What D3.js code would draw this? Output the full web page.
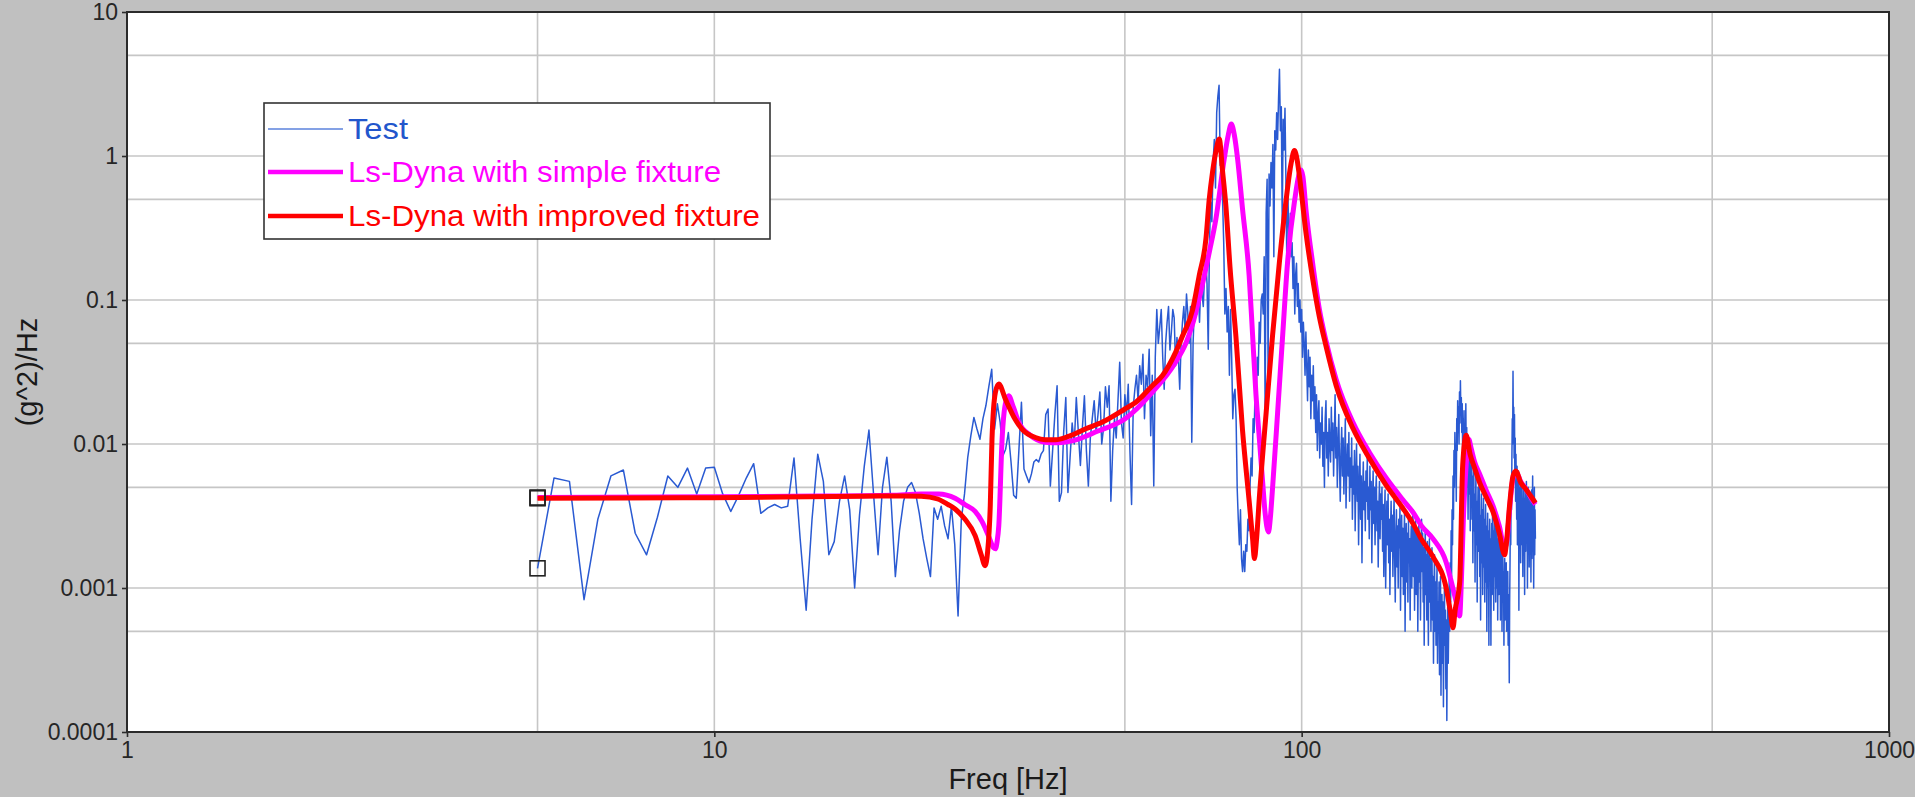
<!DOCTYPE html>
<html>
<head>
<meta charset="utf-8">
<script src="https://cdn.jsdelivr.net/npm/d3@7"></script>
<style>
  html, body { margin: 0; padding: 0; background: #c0c0c0; overflow: hidden; }
  svg { display: block; }
  text { font-family: "Liberation Sans", Arial, sans-serif; }
</style>
</head>
<body>
<svg id="chart" width="1915" height="797"></svg>
<script>
// ---- axis ticks and grid ----
const xTicks = [1, 10, 100, 1000];
const xTickLabels = ["1", "10", "100", "1000"];
const yTicks = [0.0001, 0.001, 0.01, 0.1, 1, 10];
const yTickLabels = ["0.0001", "0.001", "0.01", "0.1", "1", "10"];
const xGrid = [5, 10, 50, 100, 500];
const yGrid = [0.0005, 0.001, 0.005, 0.01, 0.05, 0.1, 0.5, 1, 5];

const seriesNames = ["Test", "Ls-Dyna with simple fixture", "Ls-Dyna with improved fixture"];
const seriesColors = ["#2a5ad2", "#ff00ff", "#ff0000"];

// ---- measured PSD, 1/3 Hz bins from 5 Hz to 250 Hz, (g^2)/Hz ----
const testStartHz = 5;
const testStepHz = 1 / 3;
const testPsd = [
  .00137,.0058,.0055,.00083,.0030,.0060,.0066,.0024,.0017,.0031,.0060,.0050,.0068,.0045,.0068,
  .0069,.0045,.0034,.0044,.0058,.0073,.0033,.0036,.0038,.0036,.0037,.0080,.0022,.0007,.0030,
  .0085,.0055,.0017,.0021,.0040,.0060,.0035,.0010,.0032,.0070,.0125,.0045,.0017,.0050,.0081,
  .0040,.0012,.0025,.0040,.0050,.0054,.0046,.0033,.0022,.0016,.0012,.0036,.0030,.0037,.0027,
  .0022,.0037,.0020,.00064,.0030,.0045,.0080,.0114,.0153,.0127,.0108,.0150,.0185,.0250,.0330,
  .0127,.0190,.0141,.0083,.0092,.0120,.0075,.0044,.0042,.0090,.0195,.0067,.0060,.0054,.0062,
  .0075,.0078,.0075,.0085,.0090,.0160,.0175,.0051,.0090,.0160,.0254,.0040,.0046,.0120,.0210,
  .0046,.0080,.0140,.0100,.0210,.0120,.0071,.0130,.0216,.0090,.0051,.0110,.0150,.0200,.0120,
  .0160,.0230,.0100,.0130,.0250,.0180,.0254,.0040,.0090,.0150,.0110,.0200,.0369,.0140,.0110,
  .0220,.0160,.0260,.0090,.0038,.0180,.0240,.0300,.0200,.0350,.0260,.0420,.0150,.0300,.0250,
  .0455,.0114,.0300,.0051,.0400,.0860,.0500,.0650,.0860,.0400,.0240,.0500,.0700,.0900,.0450,
  .0600,.0860,.0750,.0350,.0550,.0400,.0240,.0500,.0700,.0900,.0600,.1100,.0800,.0500,.0900,
  .0103,.0500,.0900,.1100,.0800,.1200,.0700,.1300,.1100,.0900,.1500,.2000,.1300,.0455,.2500,
  .48,.35,.90,1.3,.60,2.0,2.6,3.1,.86,1.1,.50,.25,.080,.12,.060,
  .090,.030,.086,.040,.015,.022,.024,.015,.0049,.0030,.0020,.0035,.0016,.0013,.0018,
  .0013,.0020,.0018,.0030,.0025,.0050,.0080,.0060,.0150,.0120,.0250,.0200,.0400,.0300,.0700,
  .050,.100,.110,.080,.200,.015,.400,.690,.030,.750,.450,.900,.600,1.20,.200,
  1.5,1.1,2.0,1.3,2.5,4.0,1.5,2.2,.33,1.8,1.1,2.15,.70,.19,.60,
  .35,.193,.40,.20,.25,.12,.20,.08,.15,.18,.09,.13,.07,.10,.06,
  .086,.040,.070,.050,.030,.060,.035,.020,.045,.025,.040,.015,.030,.020,.035,
  .015,.025,.012,.022,.009,.016,.020,.008,.014,.010,.018,.007,.012,.005,.015,
  .020,.008,.012,.006,.015,.010,.0075,.018,.009,.014,.006,.011,.022,.008,.013,
  .005,.010,.016,.007,.004,.009,.013,.006,.011,.0045,.008,.015,.0036,.007,.010,
  .006,.012,.004,.008,.005,.011,.003,.007,.0045,.009,.0025,.006,.010,.004,.007,
  .0020,.0050,.0085,.0030,.0060,.0015,.0045,.0075,.0035,.0055,.0025,.0065,.0040,.0080,.0030,
  .0050,.0022,.0070,.0035,.0055,.0015,.0040,.0065,.0028,.0050,.0020,.0045,.0060,.0025,.0040,
  .0014,.0035,.0055,.0022,.0045,.0030,.0050,.0018,.0038,.0012,.0030,.0048,.0010,.0025,.0040,
  .0020,.0045,.0015,.0030,.0009,.0025,.0040,.0018,.0032,.0012,.0028,.0042,.0016,.0008,.0024,
  .0035,.0014,.0027,.0010,.0030,.0019,.0036,.0007,.0022,.0032,.0012,.0026,.0009,.0020,.0034,
  .0005,.0018,.0028,.0011,.0024,.0008,.0030,.0015,.0022,.0006,.0019,.0027,.0010,.0023,.0035,
  .0012,.0026,.0007,.0020,.0030,.0009,.0017,.0025,.0005,.0015,.0028,.0011,.0021,.0006,.0018,
  .0030,.0013,.0024,.0008,.0019,.0004,.0014,.0026,.0009,.0017,.0006,.0021,.0011,.0004,.0015,
  .0022,.0008,.0016,.0005,.0013,.0019,.0006,.0012,.0003,.0010,.0017,.0005,.0011,.0004,.0009,
  .0014,.0003,.0008,.0005,.0011,.00025,.0007,.0012,.00018,.0006,.0009,.0003,.0008,.00015,.0005,
  .0010,.0004,.0007,.0002,.0006,.00012,.0004,.0009,.0003,.0006,.0012,.0005,.0015,.0008,.0025,
  .0012,.0035,.0020,.0060,.0030,.0090,.0050,.0120,.0070,.0100,.0040,.0150,.0090,.0200,.0120,
  .0180,.0100,.0230,.0140,.0275,.0160,.0210,.0120,.0190,.0080,.0150,.0110,.0170,.0060,.0120,
  .0090,.0190,.0070,.0130,.0050,.0100,.0030,.0080,.0110,.0045,.0090,.0025,.0070,.0040,.0085,
  .0030,.0060,.0015,.0050,.0075,.0025,.0045,.0011,.0035,.0060,.0020,.0040,.0008,.0030,.0050,
  .0018,.0040,.0055,.0012,.0032,.0006,.0025,.0045,.0015,.0035,.0009,.0028,.0042,.0014,.0030,
  .0008,.0024,.0038,.0011,.0027,.0005,.0020,.0033,.0010,.0025,.0004,.0018,.0030,.0012,.0022,
  .0004,.0016,.0028,.0009,.0035,.0015,.0025,.0007,.0020,.0032,.0012,.0026,.0008,.0019,.0030,
  .0010,.0022,.0006,.0017,.0027,.0009,.0020,.0013,.0024,.0006,.0016,.0010,.0021,.0005,.0014,
  .0018,.0008,.0013,.0004,.0011,.0016,.0006,.0012,.0009,.0015,.0005,.0010,.0007,.0013,.0004,
  .0009,.0006,.00022,.0008,.0015,.0030,.0020,.0050,.0035,.0080,.0150,.0100,.0320,.0120,.0180,
  .0080,.0160,.0060,.0110,.0040,.0085,.0050,.0030,.0070,.0020,.0055,.0040,.0065,.0007,.0035,
  .0050,.0025,.0060,.0015,.0045,.0030,.0055,.0020,.0040,.0012,.0035,.0050,.0022,.0042,.0009,
  .0030,.0048,.0018,.0038,.0055,.0025,.0040,.0010,.0032,.0050,.0020,.0036,.0014,.0030,.0045,
  .0019,.0035,.0011,.0028,.0048,.0016,.0033,.0060,.0020,.0038,.0010,.0030,.0050,.0017,.0035,
  .0022
];

// ---- Ls-Dyna response, simple fixture ----
const simpleFreq = [5, 10, 15, 20, 22.5, 24.1, 25.7, 26.7, 27.8, 28.55, 29.3, 29.9, 30.1, 30.3, 30.5,
  30.9, 31.3, 31.7, 32.3, 33, 34.5, 36.6, 38.5, 41, 45, 50, 55.7, 61, 63.5, 65.2, 67.8, 69.7, 71.4,
  73.8, 75, 75.9, 76.8, 77.8, 79.3, 81.4, 82.5, 83.6, 84.7, 85.8, 86.6, 87.8, 88.4, 89.2, 91, 92.8,
  94.6, 97.2, 99.8, 100.5, 101.7, 104.4, 107.2, 110, 114.5, 122.2, 130.5, 139.3, 148.7, 154.7, 160,
  167.3, 176.3, 181, 184, 185.8, 187, 188.5, 190.6, 192.5, 194.5, 197, 200.9, 206, 211.8, 217, 221.6,
  223.5, 226, 229, 231.8, 236, 241.4, 246, 250];
const simplePsd = [.00425, .0043, .00435, .0044, .0045, .0045, .0042, .0038, .0034, .0029, .0023, .0019, .00187, .0021, .0027,
  .0108, .019, .0216, .018, .0141, .0115, .0103, .0102, .0106, .0123, .0149, .0229, .037, .050, .068, .13, .22, .36,
  .95, 1.4, 1.67, 1.4, .95, .43, .147, .057, .022, .011, .0055, .0034, .00245, .0030, .0049, .0165, .056,
  .18, .48, .80, .72, .424, .18, .086, .052, .028, .0142, .0087, .0058, .0041, .00336, .0027,
  .0022, .0015, .00099, .00075, .00064, .0011, .0030, .0072, .0108, .0092, .0075, .0062, .0048, .0037, .0027, .0019,
  .0021, .0036, .0058, .0064, .0055, .0048, .0042, .0038];

// ---- Ls-Dyna response, improved fixture ----
const improvedFreq = [5, 7, 10, 13, 16, 19, 21, 22.5, 24, 25, 25.7, 26.7, 27.8, 28.5, 28.9, 29.2, 29.5,
  29.7, 30.1, 30.5, 31.3, 32.5, 33.4, 35.2, 36.6, 38.1, 40.1, 42.8, 45.8, 50, 52.2, 55.7, 57.9, 61,
  62.7, 65.2, 66.9, 68.7, 69.6, 70.5, 71.4, 72.4, 73.3, 74.3, 75.5, 77.3, 79.3, 81.4, 82.5, 83.1, 83.8,
  84.7, 87, 89.2, 91.6, 94, 95.9, 97.2, 98.2, 99.1, 101.7, 104.4, 107.2, 110, 114.5, 122.2, 130.5,
  139.3, 148.7, 154.7, 159.8, 167.3, 176.3, 179, 181, 182.5, 185.8, 188, 190.6, 193.5, 197, 200.9,
  206, 211.8, 217, 221.6, 223, 226, 229, 231.5, 236, 241.4, 246, 250];
const improvedPsd = [.0042, .00421, .00424, .00428, .00432, .00435, .00436, .00434, .00415, .0038, .00354, .00301, .00231, .00168, .00143, .0018, .00373,
  .0108, .0229, .0261, .0205, .0149, .0127, .0111, .0107, .0107, .0113, .0127, .0142, .0175, .0195, .0254, .0298, .0433,
  .0565, .0852, .147, .265, .50, .77, 1.06, 1.31, .80, .45, .17, .055, .0125, .0040, .0022, .0016, .0022,
  .0042, .0165, .0562, .18, .48, .88, 1.09, .95, .73, .293, .141, .0763, .048, .0254, .0129, .0079,
  .00516, .00358, .0028, .00219, .00165, .00099, .0007, .00053, .0007, .0011, .0071, .0115, .0085, .0068, .0054,
  .0043, .00336, .0024, .0017, .0020, .0038, .0060, .0065, .0054, .0048, .0043, .0039];

// ---- layout ----
const W = 1915, H = 797;
const plot = { left: 127, right: 1889, top: 12, bottom: 732 };

const x = d3.scaleLog().domain([1, 1000]).range([plot.left, plot.right]);
const y = d3.scaleLog().domain([0.0001, 10]).range([plot.bottom, plot.top]);

const svg = d3.select("#chart");

svg.append("rect").attr("width", W).attr("height", H).attr("fill", "#c0c0c0");
svg.append("rect")
  .attr("x", plot.left).attr("y", plot.top)
  .attr("width", plot.right - plot.left).attr("height", plot.bottom - plot.top)
  .attr("fill", "#ffffff");

// grid
const grid = svg.append("g").attr("stroke", "#c6c6c6").attr("stroke-width", 1.6);
grid.selectAll(".gx").data(xGrid).join("line")
  .attr("x1", d => x(d)).attr("x2", d => x(d))
  .attr("y1", plot.top).attr("y2", plot.bottom);
grid.selectAll(".gy").data(yGrid).join("line")
  .attr("x1", plot.left).attr("x2", plot.right)
  .attr("y1", d => y(d)).attr("y2", d => y(d));

// series data
const testData = testPsd.map((v, i) => ({ f: testStartHz + i * testStepHz, v }));
const simpleData = simpleFreq.map((f, i) => ({ f, v: simplePsd[i] }));
const improvedData = improvedFreq.map((f, i) => ({ f, v: improvedPsd[i] }));

const line = d3.line().x(d => x(d.f)).y(d => y(d.v));
const smooth = d3.line().x(d => x(d.f)).y(d => y(d.v)).curve(d3.curveMonotoneX);

const marks = svg.append("g");
marks.append("path").datum(testData)
  .attr("d", line).attr("fill", "none")
  .attr("stroke", seriesColors[0]).attr("stroke-width", 1.5).attr("stroke-linejoin", "round");
marks.append("path").datum(simpleData)
  .attr("d", smooth).attr("fill", "none")
  .attr("stroke", seriesColors[1]).attr("stroke-width", 5).attr("stroke-linejoin", "round");
marks.append("path").datum(improvedData)
  .attr("d", smooth).attr("fill", "none")
  .attr("stroke", seriesColors[2]).attr("stroke-width", 5).attr("stroke-linejoin", "round");

// start-of-curve markers
const starts = [testData[0], simpleData[0], improvedData[0]];
marks.selectAll(".start").data(starts).join("rect")
  .attr("x", d => x(d.f) - 7.5).attr("y", d => y(d.v) - 7.5)
  .attr("width", 15).attr("height", 15)
  .attr("fill", "none").attr("stroke", "#222").attr("stroke-width", 1.6);

// frame
svg.append("rect")
  .attr("x", plot.left).attr("y", plot.top)
  .attr("width", plot.right - plot.left).attr("height", plot.bottom - plot.top)
  .attr("fill", "none").attr("stroke", "#2b2b2b").attr("stroke-width", 2);

// axes
const yAxis = d3.axisLeft(y).tickValues(yTicks)
  .tickFormat((d, i) => yTickLabels[i]).tickSizeInner(5).tickSizeOuter(0).tickPadding(4);
const xAxis = d3.axisBottom(x).tickValues(xTicks)
  .tickFormat((d, i) => xTickLabels[i]).tickSizeInner(5).tickSizeOuter(0).tickPadding(5);

const gy = svg.append("g").attr("transform", `translate(${plot.left},0)`).call(yAxis);
const gx = svg.append("g").attr("transform", `translate(0,${plot.bottom})`).call(xAxis);
[gx, gy].forEach(g => {
  g.select(".domain").remove();
  g.selectAll(".tick line").attr("stroke", "#2b2b2b").attr("stroke-width", 1.6);
  g.selectAll(".tick text").attr("fill", "#262626")
    .style("font-size", "23px").style("font-family", "'Liberation Sans', Arial, sans-serif");
});

// axis titles
svg.append("text")
  .attr("x", (plot.left + plot.right) / 2).attr("y", 789)
  .attr("text-anchor", "middle").attr("fill", "#1a1a1a")
  .style("font-size", "29px").text("Freq [Hz]");
svg.append("text")
  .attr("transform", "translate(37,372) rotate(-90)")
  .attr("text-anchor", "middle").attr("fill", "#1a1a1a")
  .style("font-size", "29px").text("(g^2)/Hz");

// legend
const legend = svg.append("g");
legend.append("rect")
  .attr("x", 264).attr("y", 103).attr("width", 506).attr("height", 136)
  .attr("fill", "#ffffff").attr("stroke", "#333").attr("stroke-width", 1.6);
const rowsY = [129, 172, 216];
const textLens = [60, 373, 412];
const legendLineColors = ["#5b82dc", "#ff00ff", "#ff0000"];
const legendLineWidths = [1.5, 4.5, 4.5];
seriesNames.forEach((name, i) => {
  legend.append("line")
    .attr("x1", 268).attr("x2", 343).attr("y1", rowsY[i]).attr("y2", rowsY[i])
    .attr("stroke", legendLineColors[i]).attr("stroke-width", legendLineWidths[i]);
  legend.append("text")
    .attr("x", 348).attr("y", rowsY[i] + 10)
    .attr("fill", i === 0 ? "#2256cc" : seriesColors[i])
    .attr("textLength", textLens[i]).attr("lengthAdjust", "spacingAndGlyphs")
    .style("font-size", "30px").text(name);
});
</script>
</body>
</html>
